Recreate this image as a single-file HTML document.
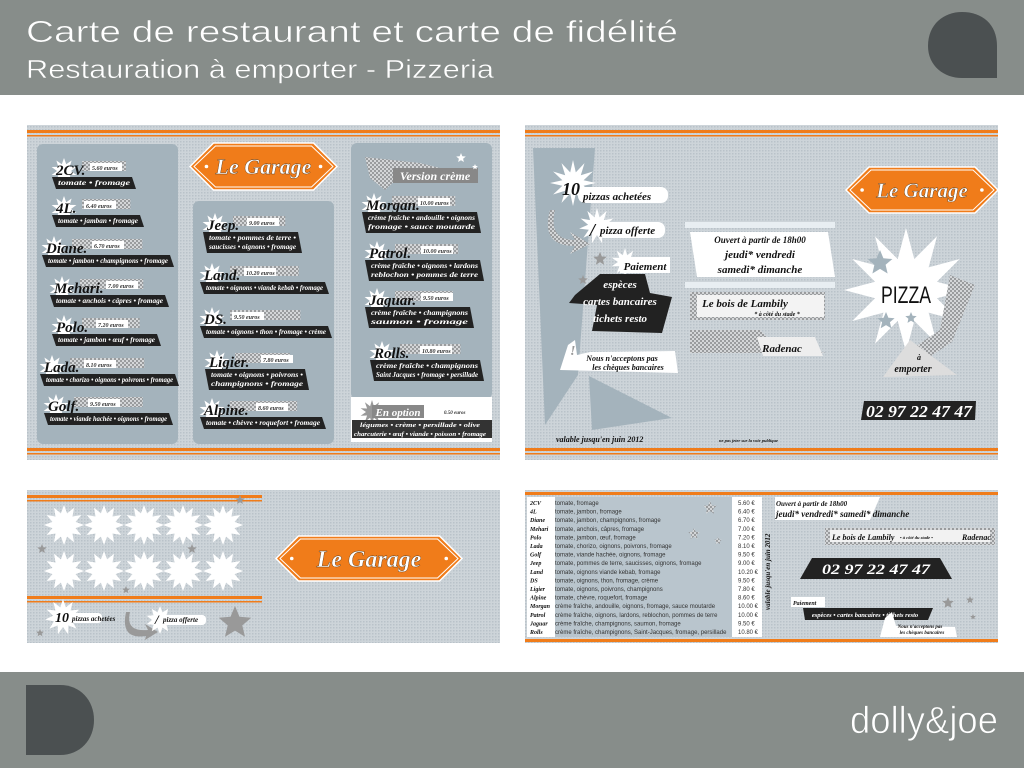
<!DOCTYPE html>
<html><head><meta charset="utf-8"><style>
html,body{margin:0;padding:0;background:#fff;}
svg{display:block;font-family:"Liberation Sans",sans-serif;}
.sc{font-family:"Liberation Serif",serif;font-style:italic;font-weight:bold;}
</style></head><body>
<svg id="s" width="1024" height="768" viewBox="0 0 1024 768" xmlns="http://www.w3.org/2000/svg">
<defs>
<pattern id="dots" width="3" height="3" patternUnits="userSpaceOnUse"><rect width="3" height="3" fill="#cdd4d9"/><rect width="1.5" height="1.5" fill="#b9c2c9"/></pattern>
<pattern id="chk" width="4" height="4" patternUnits="userSpaceOnUse"><rect width="4" height="4" fill="#d4d6d8"/><rect width="2" height="2" fill="#9a9c9e"/><rect x="2" y="2" width="2" height="2" fill="#9a9c9e"/></pattern>
</defs>
<rect x="0" y="0" width="1024" height="95" fill="#878d8a"/>
<text x="26" y="42" fill="#fff" font-size="31" textLength="652" lengthAdjust="spacingAndGlyphs" stroke="#878d8a" stroke-width="0.6">Carte de restaurant et carte de fidélité</text>
<text x="26" y="78" fill="#fff" font-size="26" textLength="468" lengthAdjust="spacingAndGlyphs" stroke="#878d8a" stroke-width="0.5">Restauration à emporter - Pizzeria</text>
<path d="M928 46 C928 24 944 12 962 12 C982 12 997 24 997 46 L997 78 L962 78 C944 78 928 66 928 46Z" fill="#4b5051"/>
<rect x="0" y="672" width="1024" height="96" fill="#878d8a"/>
<path d="M26 685 L60 685 C80 685 94 700 94 720 C94 740 80 755 60 755 L26 755Z" fill="#4b5051"/>
<text x="850" y="733" fill="#fff" font-size="38" textLength="148" lengthAdjust="spacingAndGlyphs" stroke="#878d8a" stroke-width="0.8">dolly&amp;joe</text>

<rect x="27" y="125" width="473" height="335" fill="url(#dots)"/>
<rect x="27" y="130" width="473" height="3" fill="#f07c1a"/><rect x="27" y="135" width="473" height="1.5" fill="#f07c1a"/>
<rect x="27" y="448" width="473" height="3" fill="#f07c1a"/><rect x="27" y="453" width="473" height="1.5" fill="#f07c1a"/>
<rect x="37" y="144" width="141" height="300" rx="6" fill="#a4b3bc"/>
<rect x="193" y="201" width="141" height="243" rx="6" fill="#a4b3bc"/>
<rect x="351" y="143" width="141" height="256" rx="6" fill="#a4b3bc"/>
<rect x="351" y="397" width="141" height="45" fill="#fff"/>
<rect x="525" y="125" width="473" height="335" fill="url(#dots)"/>
<rect x="525" y="130" width="473" height="3" fill="#f07c1a"/><rect x="525" y="135" width="473" height="1.5" fill="#f07c1a"/>
<rect x="525" y="448" width="473" height="3" fill="#f07c1a"/><rect x="525" y="453" width="473" height="1.5" fill="#f07c1a"/>
<polygon points="533,148 595,148 578,375 545,425" fill="#a4b3bc"/>
<polygon points="589,376 672,418 592,430" fill="#a4b3bc"/>
<rect x="27" y="490" width="473" height="153" fill="url(#dots)"/>
<rect x="27" y="495" width="235" height="3" fill="#f07c1a"/><rect x="27" y="500" width="235" height="1.5" fill="#f07c1a"/>
<rect x="27" y="596" width="235" height="3" fill="#f07c1a"/><rect x="27" y="601" width="235" height="1.5" fill="#f07c1a"/>
<rect x="525" y="490" width="473" height="153" fill="url(#dots)"/>
<rect x="525" y="492" width="473" height="3" fill="#f07c1a"/><rect x="525" y="639" width="473" height="3" fill="#f07c1a"/>
<rect x="527" y="497" width="205" height="140" fill="#b9c5cd"/>
<rect x="527" y="497" width="28" height="140" fill="#fff"/>
<rect x="732" y="497" width="30" height="140" fill="#fff"/>
<g id="dyn"></g>
</svg>
<script>
const NS="http://www.w3.org/2000/svg",S=document.getElementById('dyn');
function el(t,a,txt){const e=document.createElementNS(NS,t);for(const k in a)e.setAttribute(k,a[k]);if(txt!=null)e.textContent=txt;S.appendChild(e);return e;}
function burst(cx,cy,r1,r2,n,f){let p=[];for(let i=0;i<2*n;i++){const r=i%2?r2:r1,a=Math.PI*i/n-Math.PI/2;p.push((cx+r*Math.cos(a)).toFixed(1)+','+(cy+r*Math.sin(a)).toFixed(1));}el('polygon',{points:p.join(' '),fill:f});}
function star(cx,cy,r,f){burst(cx,cy,r,r*0.45,5,f);}
function hex(x,y,w,h,fs){el('polygon',{points:`${x},${y+h/2} ${x+h/2},${y} ${x+w-h/2},${y} ${x+w},${y+h/2} ${x+w-h/2},${y+h} ${x+h/2},${y+h}`,fill:'#f07c1a',stroke:'#fff','stroke-width':1.5});
 el('polygon',{points:`${x+4},${y+h/2} ${x+h/2+2},${y+3} ${x+w-h/2-2},${y+3} ${x+w-4},${y+h/2} ${x+w-h/2-2},${y+h-3} ${x+h/2+2},${y+h-3}`,fill:'none',stroke:'#fff','stroke-width':1});
 el('circle',{cx:x+h*0.35,cy:y+h/2,r:1.8,fill:'#fff'});el('circle',{cx:x+w-h*0.35,cy:y+h/2,r:1.8,fill:'#fff'});
 el('text',{x:x+w/2,y:y+h/2+fs*0.35,'font-size':fs,fill:'#fff','text-anchor':'middle','class':'sc',stroke:'#5a3a1a','stroke-width':0.4},'Le Garage');}
function tx(x,y,s,fs,f,anchor,cls,w){const a={x,y,'font-size':fs,fill:f||'#111','class':cls==null?'sc':cls};if(anchor)a['text-anchor']=anchor;if(w){a.textLength=w;a.lengthAdjust='spacingAndGlyphs';}return el('text',a,s);}
hex(190,143,147,47,22);
function item(x,y,name,price,desc,bw,lines){burst(x+12,y-4,13,7,10,'#fff');
 el('rect',{x:x+30,y:y-14,width:bw*0.55,height:10,fill:'url(#chk)'});
 el('rect',{x:x+name.length*6+14,y:y-12,width:32,height:8,fill:'#fff'});
 tx(x+4,y,name,15,'#111');tx(x+name.length*6+16,y-5,price,6,'#333','', 'sc');
 const h=lines.length*9+3;el('polygon',{points:`${x},${y+2} ${x+bw},${y+2} ${x+bw+4},${y+2+h} ${x+4},${y+2+h}`,fill:'#222'});
 lines.forEach((l,i)=>tx(x+bw/2+2,y+10+i*9,l,7,'#fff','middle','sc',bw-8));}
item(52,175,'2CV.','5.60 euros','',80,['tomate • fromage']);
item(52,213,'4L.','6.40 euros','',88,['tomate • jamban • fromage']);
item(42,253,'Diane.','6.70 euros','',128,['tomate • jambon • champignons • fromage']);
item(50,293,'Mehari.','7.00 euros','',115,['tomate • anchois • câpres • fromage']);
item(52,332,'Polo.','7.20 euros','',105,['tomate • jambon • œuf • fromage']);
item(40,372,'Lada.','8.10 euros','',135,['tomate • chorizo • oignons • poivrons • fromage']);
item(44,411,'Golf.','9.50 euros','',125,['tomate • viande hachée • oignons • fromage']);
item(203,230,'Jeep.','9.00 euros','',95,['tomate • pommes de terre •','saucisses • oignons • fromage']);
item(200,280,'Land.','10.20 euros','',125,['tomate • oignons • viande kebab • fromage']);
item(200,324,'DS.','9.50 euros','',128,['tomate • oignons • thon • fromage • crème']);
item(205,367,'Ligier.','7.80 euros','',100,['tomate • oignons • poivrons •','champignons • fromage']);
item(200,415,'Alpine.','8.60 euros','',122,['tomate • chèvre • roquefort • fromage']);
el('polygon',{points:'365,157 420,163 448,170 398,178 385,190 370,178',fill:'url(#chk)'});
el('rect',{x:393,y:168,width:85,height:15,fill:'#888'});tx(435,180,'Version crème',12,'#fff','middle');
star(461,158,5,'#fff');star(475,167,3,'#fff');
item(362,210,'Morgan.','10.00 euros','',115,['crème fraîche • andouille • oignons','fromage • sauce moutarde']);
item(365,258,'Patrol.','10.00 euros','',115,['crème fraîche • oignons • lardons','reblochon • pommes de terre']);
item(365,305,'Jaguar.','9.50 euros','',105,['crème fraîche • champignons','saumon • fromage']);
item(370,358,'Rolls.','10.80 euros','',110,['crème fraîche • champignons','Saint Jacques • fromage • persillade']);
burst(372,412,12,6,10,'#999');el('rect',{x:372,y:405,width:52,height:13,fill:'#888'});tx(398,416,'En option',11,'#fff','middle');
tx(444,414,'0.50 euros',5,'#333');
el('rect',{x:352,y:420,width:140,height:18,fill:'#333'});tx(420,427,'légumes • crème • persillade • olive',6,'#fff','middle','sc',120);
tx(420,436,'charcuterie • œuf • viande • poisson • fromage',6,'#fff','middle','sc',132);
burst(573,183,23,11,12,'#fff');el('rect',{x:578,y:187,width:90,height:16,rx:7,fill:'#fff'});
tx(562,195,'10',18,'#111');tx(583,200,'pizzas achetées',11,'#111');
el('path',{d:'M555 210 Q548 240 575 240 L570 232 L590 244 L570 254 L575 246 Q540 246 550 210Z',fill:'url(#chk)'});
burst(597,226,18,9,11,'#fff');el('rect',{x:597,y:222,width:68,height:16,rx:7,fill:'#fff'});
tx(590,236,'/',18,'#111');tx(600,234,'pizza offerte',11,'#111');
star(600,259,7,'#999');star(583,280,5,'#999');burst(625,262,14,7,10,'#fff');
el('rect',{x:620,y:257,width:50,height:16,fill:'#fff'});tx(645,270,'Paiement',11,'#111','middle');
el('polygon',{points:'600,274 645,274 650,293 672,297 662,333 592,331 597,305 569,303 575,295',fill:'#222'});
tx(620,288,'espèces',11,'#fff','middle');tx(620,305,'cartes bancaires',11,'#fff','middle');tx(620,322,'tichets resto',11,'#fff','middle');
el('polygon',{points:'568,345 575,340 577,355 590,352 675,351 678,373 560,370',fill:'#fff'});
tx(570,355,'!',14,'#999');tx(622,361,'Nous n\'acceptons pas',8,'#111','middle');tx(628,370,'les chèques bancaires',8,'#111','middle');
tx(556,442,'valable jusqu\'en juin 2012',8,'#111','', 'sc');tx(719,442,'ne pas jeter sur la voie publique',4.5,'#111');
hex(846,167,152,46,21);
el('rect',{x:685,y:222,width:150,height:6,fill:'#e8eef2'});
el('polygon',{points:'690,232 828,232 835,277 697,277',fill:'#fff'});
tx(760,243,'Ouvert à partir de 18h00',9,'#111','middle');tx(760,258,'jeudi* vendredi',11,'#111','middle');tx(760,273,'samedi* dimanche',11,'#111','middle');
el('rect',{x:685,y:282,width:150,height:6,fill:'#e8eef2'});
el('rect',{x:690,y:292,width:135,height:28,fill:'url(#chk)'});el('rect',{x:697,y:295,width:127,height:22,fill:'#f3f3f3'});
tx(745,307,'Le bois de Lambily',11,'#111','middle');tx(777,316,'* à côté du stade *',6,'#111','middle');
el('polygon',{points:'690,330 760,330 772,342 822,352 826,353 690,353',fill:'url(#chk)'});
el('polygon',{points:'757,337 815,337 823,356 763,356',fill:'#eee'});tx(782,352,'Radenac',11,'#111','middle');
burst(906,290,62,32,12,'#fff');
el('polygon',{points:'950,275 975,285 952,342 910,370 907,352 940,330',fill:'url(#chk)'});
star(880,263,13,'#a4b3bc');star(886,321,9,'#a4b3bc');star(911,318,6,'#a4b3bc');
tx(906,303,'PIZZA',24,'#111','middle','',50);
el('polygon',{points:'910,340 957,375 883,377',fill:'#ddd'});tx(917,360,'à',8,'#111');tx(913,372,'emporter',10,'#111','middle');
el('polygon',{points:'864,401 976,401 975,420 861,420',fill:'#222'});
tx(919,417,'02 97 22 47 47',17,'#fff','middle','sc',106);
[64,104,144,183,223].forEach(x=>{burst(x,525,20,12,12,'#fff');burst(x,571,20,12,12,'#fff');});
star(42,549,5,'#999');star(192,549,5,'#999');star(126,590,4,'#999');star(240,500,5,'#999');star(40,633,4,'#999');
burst(63,617,18,10,11,'#fff');tx(55,622,'10',14,'#111');el('rect',{x:70,y:613,width:32,height:10,rx:4,fill:'#fff'});tx(72,621,'pizzas achetées',7,'#111');
el('path',{d:'M130 612 Q125 632 148 630 L145 624 L158 632 L145 640 L146 636 Q120 640 126 612Z',fill:'#999'});
burst(160,620,14,8,10,'#fff');el('rect',{x:162,y:615,width:44,height:10,rx:4,fill:'#fff'});tx(155,624,'/',13,'#111');tx(163,622,'pizza offerte',7,'#111');
star(235,623,17,'#999');
hex(276,536,186,45,24);
const L=[['2CV','tomate, fromage','5.60 €'],['4L','tomate, jambon, fromage','6.40 €'],['Diane','tomate, jambon, champignons, fromage','6.70 €'],['Mehari','tomate, anchois, câpres, fromage','7.00 €'],['Polo','tomate, jambon, œuf, fromage','7.20 €'],['Lada','tomate, chorizo, oignons, poivrons, fromage','8.10 €'],['Golf','tomate, viande hachée, oignons, fromage','9.50 €'],['Jeep','tomate, pommes de terre, saucisses, oignons, fromage','9.00 €'],['Land','tomate, oignons viande kebab, fromage','10.20 €'],['DS','tomate, oignons, thon, fromage, crème','9.50 €'],['Ligier','tomate, oignons, poivrons, champignons','7.80 €'],['Alpine','tomate, chèvre, roquefort, fromage','8.60 €'],['Morgan','crème fraîche, andouille, oignons, fromage, sauce moutarde','10.00 €'],['Patrol','crème fraîche, oignons, lardons, reblochon, pommes de terre','10.00 €'],['Jaguar','crème fraîche, champignons, saumon, fromage','9.50 €'],['Rolls','crème fraîche, champignons, Saint-Jacques, fromage, persillade','10.80 €']];
star(710,508,7,'url(#chk)');star(694,534,6,'url(#chk)');star(718,541,4,'url(#chk)');
L.forEach((r,i)=>{const y=505+i*8.6;tx(530,y,r[0],6,'#111');tx(555,y,r[1],6,'#333','',' ');tx(738,y,r[2],6,'#333','',' ');});
const v=tx(0,0,'valable jusqu\'en juin 2012',7,'#111');v.setAttribute('transform','translate(770,610) rotate(-90)');
el('polygon',{points:'775,497 880,497 870,520 775,520',fill:'#fff'});
tx(776,506,'Ouvert à partir de 18h00',7,'#111');tx(776,517,'jeudi* vendredi* samedi* dimanche',9,'#111');
el('rect',{x:825,y:528,width:170,height:17,fill:'url(#chk)'});el('rect',{x:830,y:530,width:160,height:12,fill:'#f2f2f2'});
tx(832,540,'Le bois de Lambily',8,'#111');tx(900,539,'• à côté du stade •',4.5,'#111');tx(962,540,'Radenac',8,'#111');
el('polygon',{points:'812,558 940,558 952,579 800,579',fill:'#222'});tx(876,574,'02 97 22 47 47',15,'#fff','middle','sc',108);
star(948,603,6,'#999');star(970,600,4,'#999');star(973,617,3,'#999');
el('rect',{x:791,y:597,width:34,height:10,fill:'#fff'});tx(793,605,'Paiement',6,'#111');
el('polygon',{points:'803,608 933,608 928,620 805,620',fill:'#222'});tx(865,617,'espèces • cartes bancaires • tichets resto',6.5,'#fff','middle');
el('polygon',{points:'885,618 892,612 896,626 955,627 957,637 880,637',fill:'#fff'});
tx(920,628,'Nous n\'acceptons pas',5,'#111','middle');tx(922,634,'les chèques bancaires',5,'#111','middle');
</script>
</body></html>
